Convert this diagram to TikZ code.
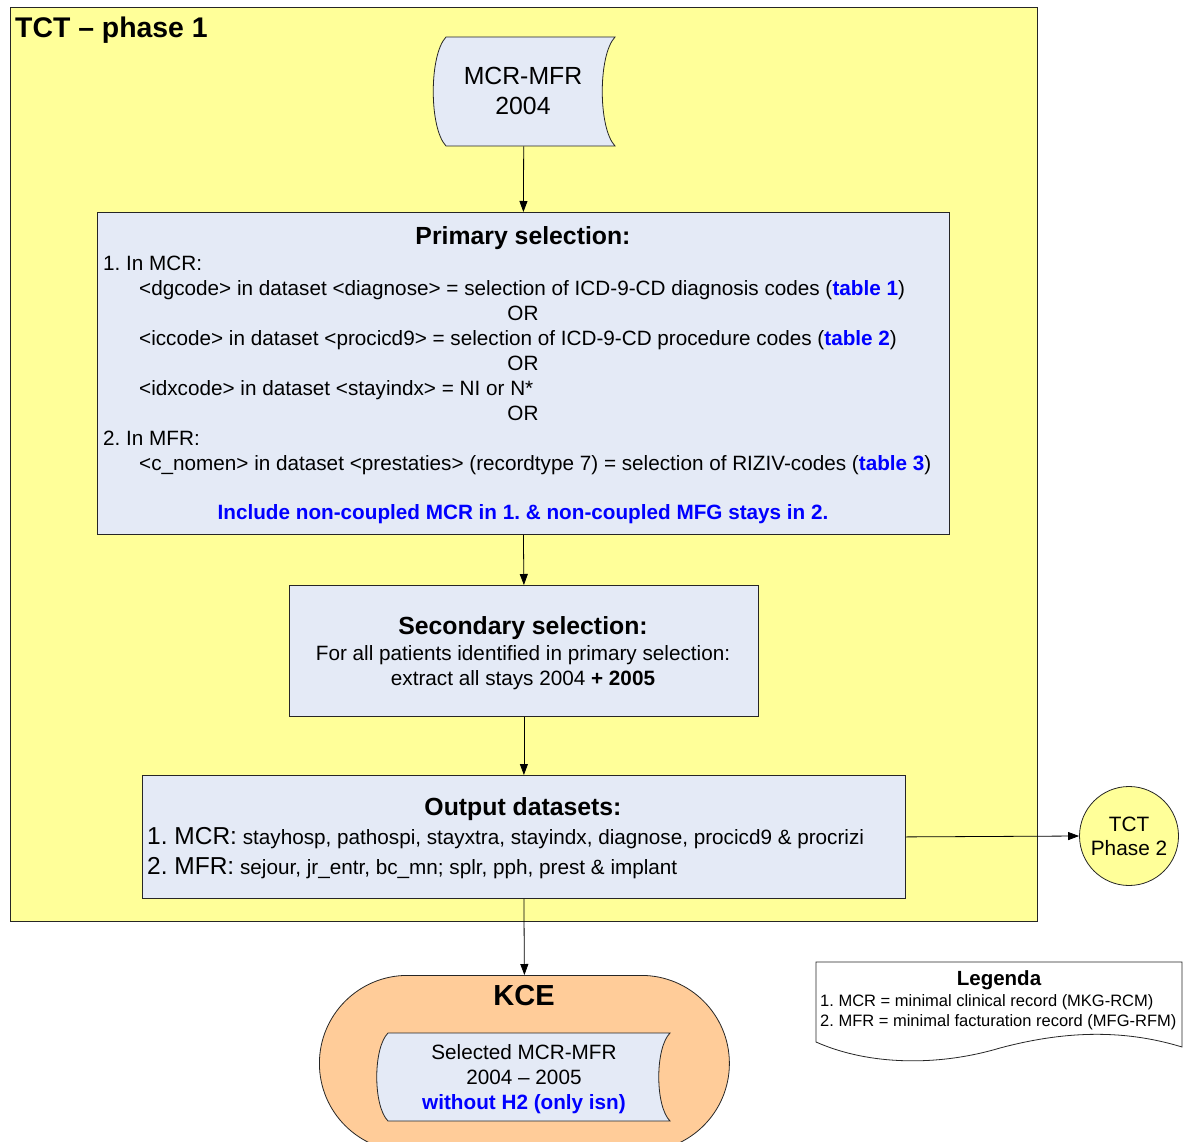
\documentclass[tikz,border=0pt]{standalone}
\usepackage{fontspec}
\setmainfont{Liberation Sans}
\usetikzlibrary{arrows.meta}
\definecolor{bgyellow}{RGB}{255,255,153}
\definecolor{boxblue}{RGB}{228,234,246}
\definecolor{peach}{RGB}{255,204,153}
\definecolor{linkblue}{RGB}{0,0,255}
\frenchspacing
\begin{document}
\begin{tikzpicture}[x=1pt,y=-1pt,
  box/.style={draw=black!85, fill=boxblue, line width=0.8pt, inner sep=0, anchor=north west},
  holder/.style={inner sep=0, anchor=north west},
  shp/.style={draw=black!85, line width=0.8pt},
  arr/.style={-{Triangle[length=11pt,width=8pt]}, line width=0.8pt},
  txt/.style={inner sep=0, anchor=base west, font=\fontsize{20.7}{25}\selectfont},
  ctxt/.style={inner sep=0, anchor=base, font=\fontsize{20.7}{25}\selectfont},
  hdr/.style={inner sep=0, anchor=base, font=\fontsize{24.8}{28}\selectfont\bfseries},
  lnk/.style={text=linkblue, font=\fontsize{20.7}{25}\selectfont\bfseries},
]
\useasboundingbox (0,0) rectangle (1183,1142);
\begin{scope}
\clip (0,0) rectangle (1183,1142);
% background frame
\node[holder, draw=black!85, fill=bgyellow, line width=0.8pt, minimum width=1027pt, minimum height=914pt] (frame) at (10,7) {};
\node[anchor=base west, inner sep=0, font=\fontsize{28.4}{32}\selectfont\bfseries] (title) at (15,38) {TCT – phase 1};

% source storage
\node[holder, minimum width=183pt, minimum height=109pt] (src) at (432,37) {};
\draw[shp, fill=boxblue] (446,37) -- (615,37) .. controls (598,55) and (598,128) .. (615,146) -- (446,146) .. controls (429,128) and (429,55) .. (446,37) -- cycle;
\node[ctxt, font=\fontsize{24.8}{28}\selectfont] (src1) at (523,85) {MCR-MFR};
\node[ctxt, font=\fontsize{24.8}{28}\selectfont] (src2) at (523,115) {2004};

% primary selection
\node[box, minimum width=852pt, minimum height=322pt] (prim) at (97,212) {};
\node[hdr] (p0) at (523,244) {Primary selection:};
\node[txt] (p1) at (103,270) {1. In MCR:};
\node[txt] (p2) at (139,295) {<dgcode> in dataset <diagnose> = selection of ICD-9-CD diagnosis codes (\textcolor{linkblue}{\bfseries table 1})};
\node[ctxt] (p3) at (523,320) {OR};
\node[txt] (p4) at (139,345) {<iccode> in dataset <procicd9> = selection of ICD-9-CD procedure codes (\textcolor{linkblue}{\bfseries table 2})};
\node[ctxt] (p5) at (523,370) {OR};
\node[txt] (p6) at (139,395) {<idxcode> in dataset <stayindx> = NI or N*};
\node[ctxt] (p7) at (523,420) {OR};
\node[txt] (p8) at (103,445) {2. In MFR:};
\node[txt] (p9) at (139,470) {<c\_nomen> in dataset <prestaties> (recordtype 7) = selection of RIZIV-codes (\textcolor{linkblue}{\bfseries table 3})};
\node[ctxt, lnk] (p10) at (523,519) {Include non-coupled MCR in 1. \& non-coupled MFG stays in 2.};

% secondary selection
\node[box, minimum width=469pt, minimum height=131pt] (sec) at (289,585) {};
\node[hdr] (s0) at (523,634) {Secondary selection:};
\node[ctxt] (s1) at (523,660) {For all patients identified in primary selection:};
\node[ctxt] (s2) at (523,685) {extract all stays 2004 \textbf{+ 2005}};

% output datasets
\node[box, minimum width=763pt, minimum height=123pt] (out) at (142,775) {};
\node[hdr] (o0) at (523,815) {Output datasets:};
\node[txt] (o1) at (147,844) {{\fontsize{24.5}{28}\selectfont 1. MCR:} stayhosp, pathospi, stayxtra, stayindx, diagnose, procicd9 \& procrizi};
\node[txt] (o2) at (147,874) {{\fontsize{24.5}{28}\selectfont 2. MFR:} sejour, jr\_entr, bc\_mn; splr, pph, prest \& implant};

% TCT phase 2
\node[circle, draw=black!85, fill=bgyellow, line width=0.8pt, minimum size=99pt, inner sep=0] (tct) at (1129,836) {};
\node[ctxt, font=\fontsize{20.8}{24}\selectfont] (tct1) at (1129,831) {TCT};
\node[ctxt, font=\fontsize{20.8}{24}\selectfont] (tct2) at (1129,855) {Phase 2};

% KCE
\node[holder, draw=black!85, fill=peach, line width=0.8pt, rounded corners=88pt, minimum width=410pt, minimum height=176pt] (kce) at (319,975) {};
\node[ctxt, font=\fontsize{29}{33}\selectfont\bfseries] (kce0) at (524,1005) {KCE};
\node[holder, minimum width=292pt, minimum height=88pt] (sel) at (378,1033) {};
\draw[shp, fill=boxblue] (388,1033) -- (670,1033) .. controls (655,1048) and (655,1106) .. (670,1121) -- (388,1121) .. controls (373,1106) and (373,1048) .. (388,1033) -- cycle;
\node[ctxt] (k1) at (524,1059) {Selected MCR-MFR};
\node[ctxt] (k2) at (524,1084) {2004 – 2005};
\node[ctxt, lnk] (k3) at (524,1109) {without H2 (only isn)};

% legend
\node[holder, minimum width=366pt, minimum height=100pt] (leg) at (816,962) {};
\draw[shp, fill=white] (816,962) -- (1182,962) -- (1182,1047) .. controls (1120,1028) and (1060,1032) .. (1000,1048) .. controls (940,1066) and (870,1066) .. (816,1042) -- cycle;
\node[ctxt, font=\fontsize{20.5}{24}\selectfont\bfseries] (leg0) at (999,985) {Legenda};
\node[txt, font=\fontsize{16.5}{19}\selectfont] (leg1) at (820,1006) {1. MCR = minimal clinical record (MKG-RCM)};
\node[txt, font=\fontsize{16.5}{19}\selectfont] (leg2) at (820,1026) {2. MFR = minimal facturation record (MFG-RFM)};

% connectors
\draw[arr] (src.south) -- (prim.north);
\draw[arr] (prim.south) -- (sec.north);
\draw[arr] (sec.south) -- (out.north);
\draw[arr] (out.east) -- (tct.west);
\draw[arr] (out.south) -- (kce.north);
\end{scope}
\end{tikzpicture}
\end{document}
